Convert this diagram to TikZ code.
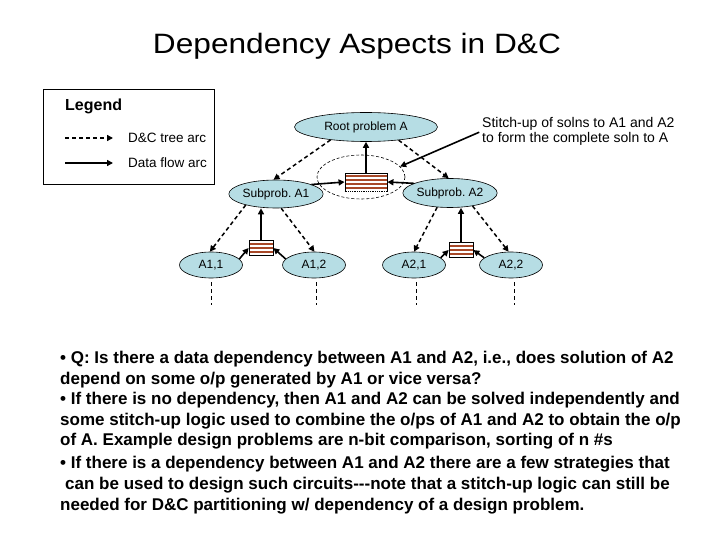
\documentclass[tikz,border=0pt]{standalone}
\usepackage{fontspec}
\setmainfont{Liberation Sans}
\usetikzlibrary{shapes.geometric,arrows.meta,calc}
\frenchspacing
\definecolor{nodefill}{RGB}{182,221,228}
\definecolor{stripe}{RGB}{168,72,40}
\tikzset{
  prob/.style={ellipse, draw, line width=0.6pt, fill=nodefill, inner sep=0pt, font=\fontsize{12}{14}\selectfont},
  treearc/.style={line width=1.5pt, dash pattern=on 4pt off 3pt, -{Triangle[length=6pt,width=6pt]}},
  flowarc/.style={line width=1.6pt, -{Triangle[length=6pt,width=6pt]}},
  drop/.style={line width=0.6pt, dash pattern=on 4pt off 3pt},
  body/.style={anchor=base west, inner sep=0pt, font=\fontsize{17}{20}\selectfont\bfseries},
  stitchbox/.style 2 args={draw, line width=0.8pt, fill=white, inner sep=0pt,
    path picture={
      \foreach \i in {#2}{
        \fill[stripe] ($(path picture bounding box.north west)!{\i/#1}!(path picture bounding box.south west)$)
          rectangle ($(path picture bounding box.north east)!{(\i+1)/#1}!(path picture bounding box.south east)$);
      }
    }},
}
\begin{document}
\frenchspacing
\begin{tikzpicture}[x=1pt,y=-1pt]
\useasboundingbox (0,0) rectangle (720,540);
\fill[white] (0,0) rectangle (720,540);

% title
\node[inner sep=0pt, font=\fontsize{28}{32}\selectfont] (title) at (357,46)
  {\resizebox{408pt}{\height}{Dependency Aspects in D\&C}};

% legend
\node[draw, line width=0.8pt, anchor=north west, minimum width=171pt, minimum height=95pt, inner sep=0pt] (legend) at (43,89) {};
\node[anchor=west, inner sep=0pt, font=\fontsize{16}{18}\selectfont\bfseries] (legtitle) at (65,106) {Legend};
\coordinate (lda) at (65,138);
\coordinate (ldb) at (113,138);
\coordinate (lfa) at (65,163);
\coordinate (lfb) at (113,163);
\draw[treearc] (lda) -- (ldb);
\draw[flowarc] (lfa) -- (lfb);
\node[anchor=west, inner sep=0pt, font=\fontsize{13.5}{16}\selectfont] (legtree) at (128,138) {D\&C tree arc};
\node[anchor=west, inner sep=0pt, font=\fontsize{13.5}{16}\selectfont] (legflow) at (128,163) {Data flow arc};

% group ellipse around stitch-up
\node[ellipse, draw, line width=0.6pt, dash pattern=on 3pt off 2pt, minimum width=88pt, minimum height=44pt, inner sep=0pt] (group) at (361,177) {};

% problem nodes
\node[prob, minimum width=143pt, minimum height=29pt] (root) at (366,127) {Root problem A};
\node[prob, minimum width=82pt, minimum height=28pt] (A1) at (276,194) {Subprob. A1};
\node[prob, minimum width=90pt, minimum height=29pt] (A2) at (450,193) {Subprob. A2};
\node[prob, minimum width=63pt, minimum height=26pt] (A11) at (211,265) {A1,1};
\node[prob, minimum width=63pt, minimum height=26pt] (A12) at (314,265) {A1,2};
\node[prob, minimum width=63pt, minimum height=26pt] (A21) at (414,265) {A2,1};
\node[prob, minimum width=63pt, minimum height=26pt] (A22) at (511,265) {A2,2};

% stitch-up boxes
\node[stitchbox={9}{1,3,5,7}, minimum width=42pt, minimum height=18pt] (box) at (366,182) {};
\draw[white, line width=0.9pt] (box.south west) -- (box.south east);
\draw[line width=0.8pt, densely dotted] (box.south west) -- (box.south east);
\node[stitchbox={7}{1,3,5}, minimum width=24pt, minimum height=15pt] (box1) at (261,248) {};
\node[stitchbox={7}{1,3,5}, minimum width=24pt, minimum height=15pt] (box2) at (461,250) {};

% stitch label
\node[anchor=west, align=left, inner sep=0pt, font=\fontsize{14}{15}\selectfont] (stitchlbl) at (482,131)
  {Stitch-up of solns to A1 and A2\\to form the complete soln to A};
\draw[flowarc, shorten <=3pt] (stitchlbl.west) -- (group.15);

% D&C tree arcs
\draw[treearc] (root.200) -- (A1.100);
\draw[treearc] (root.338) -- (A2.95);
\draw[treearc] (A1.200) -- (A11.95);
\draw[treearc] (A1.290) -- (A12.88);
\draw[treearc] (A2.228) -- (A21.north);
\draw[treearc] (A2.330) -- (A22.100);

% data flow arcs
\draw[flowarc] (box.north) -- (root.south);
\draw[flowarc] (A1.15) -- (box.west);
\draw[flowarc] (A2.165) -- (box.east);
\draw[flowarc] (box1.north) -- (A1.south -| box1.north);
\draw[flowarc] (A11.12) -- (box1.west);
\draw[flowarc] (A12.168) -- (box1.east);
\draw[flowarc] (box2.north) -- (A2.south -| box2.north);
\draw[flowarc] (A21.15) -- (box2.west);
\draw[flowarc] (A22.165) -- (box2.east);

% continuation drops
\coordinate (d11) at (211,305);
\coordinate (d12) at (316,305);
\coordinate (d21) at (416,305);
\coordinate (d22) at (514,305);
\draw[drop, shorten <=4pt] (A11.south -| d11) -- (d11);
\draw[drop, shorten <=4pt] (A12.south -| d12) -- (d12);
\draw[drop, shorten <=4pt] (A21.south -| d21) -- (d21);
\draw[drop, shorten <=4pt] (A22.south -| d22) -- (d22);

% body text
\node[body] (l1) at (60,363) {• Q: Is there a data dependency between A1 and A2, i.e., does solution of A2};
\node[body] (l2) at (60,384) {depend on some o/p generated by A1 or vice versa?};
\node[body] (l3) at (60,404) {• If there is no dependency, then A1 and A2 can be solved independently and};
\node[body] (l4) at (60,425) {some stitch-up logic used to combine the o/ps of A1 and A2 to obtain the o/p};
\node[body] (l5) at (60,445) {of A. Example design problems are n-bit comparison, sorting of n \#s};
\node[body] (l6) at (60,468) {• If there is a dependency between A1 and A2 there are a few strategies that};
\node[body] (l7) at (65,489) {can be used to design such circuits-{}-{}-note that a stitch-up logic can still be};
\node[body] (l8) at (60,510) {needed for D\&C partitioning w/ dependency of a design problem.};
\end{tikzpicture}
\end{document}
